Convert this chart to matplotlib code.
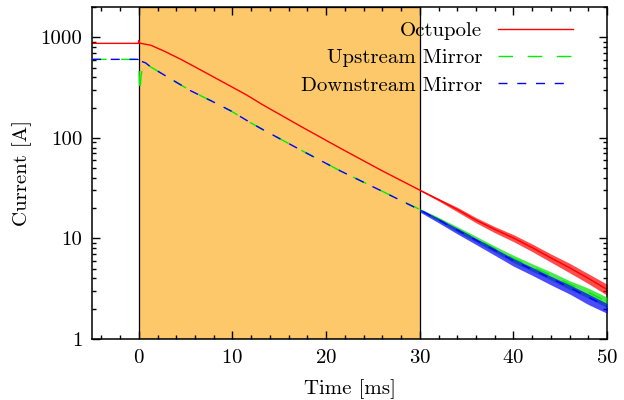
import matplotlib
matplotlib.use("Agg")
import matplotlib.pyplot as plt
from matplotlib.ticker import FixedLocator, FuncFormatter, MultipleLocator, LogLocator, NullFormatter

plt.rcParams["font.family"] = "serif"
plt.rcParams["font.serif"] = ["cmr10"]
plt.rcParams["mathtext.fontset"] = "cm"
plt.rcParams["axes.formatter.use_mathtext"] = True
plt.rcParams["font.size"] = 15

# time in ms, current in A
t_oct = [-5, -0.05, 0.0, 0.1, 0.2, 1.3, 2.7, 4.5, 6.25, 8, 9.8, 11.5, 13.2, 17.3, 21.5, 25.8,
         30, 32, 34, 36, 38, 40, 42, 44, 46, 48, 50]
i_oct = [870, 870, 930, 875, 871, 832, 729, 603, 493, 402, 326, 267, 214, 130, 79, 48,
         30.2, 24.3, 19.4, 15.2, 12.3, 10.1, 8.1, 6.4, 5.1, 4.0, 3.1]

t_up = [-5, -0.05, 0.0, 0.1, 0.25, 0.5, 0.7, 1.3, 3.4, 5.5, 7.7, 9.8, 11.9, 13.3, 17.6, 21.5, 25.8,
        30, 32, 34, 36, 38, 40, 42, 44, 46, 48, 50]
i_up = [603, 603, 600, 280, 420, 560, 558, 505, 386, 295, 234, 186, 142, 120, 73, 47, 30,
        19.4, 15.6, 12.4, 9.9, 7.9, 6.3, 5.2, 4.3, 3.5, 2.9, 2.35]

t_down = [-5, -0.05, 0.0, 0.1, 0.3, 0.7, 1.3, 3.4, 5.5, 7.7, 9.8, 11.9, 13.3, 17.6, 21.5, 25.8,
          30, 32, 34, 36, 38, 40, 42, 44, 46, 48, 50]
i_down = [603, 603, 650, 600, 575, 558, 505, 386, 295, 234, 186, 142, 120, 73, 47, 30,
          19.2, 15.3, 12.1, 9.6, 7.6, 6.0, 4.9, 4.0, 3.25, 2.6, 2.1]

# noise envelope on the tail
t_tail = [30, 32, 34, 36, 38, 40, 42, 44, 46, 48, 50]
oct_lo = [29.7, 23.6, 18.4, 14.3, 11.4, 9.3, 7.4, 5.8, 4.55, 3.55, 2.72]
oct_hi = [30.8, 25.0, 20.4, 16.1, 13.1, 10.9, 8.8, 7.0, 5.65, 4.45, 3.5]
up_lo = [18.8, 14.9, 11.6, 9.2, 7.3, 5.75, 4.7, 3.85, 3.1, 2.55, 2.05]
up_hi = [19.9, 16.2, 13.1, 10.5, 8.4, 6.8, 5.6, 4.65, 3.8, 3.2, 2.6]
down_lo = [18.3, 14.3, 11.1, 8.7, 6.8, 5.3, 4.3, 3.45, 2.8, 2.2, 1.8]
down_hi = [19.7, 15.8, 12.6, 10.0, 7.95, 6.3, 5.15, 4.2, 3.45, 2.8, 2.25]

shade_start, shade_end = 0, 30

fig = plt.figure(figsize=(6.24, 4.0), dpi=100)
ax = fig.add_axes([0.1474, 0.1525, 0.8256, 0.830])

ax.axvspan(shade_start, shade_end, facecolor="#fcc86a", edgecolor="black", linewidth=0.9, zorder=0)

ax.fill_between(t_tail, oct_lo, oct_hi, color="#ff0000", linewidth=0, alpha=0.7, zorder=2)
ax.fill_between(t_tail, up_lo, up_hi, color="#00e000", linewidth=0, alpha=0.7, zorder=3)
ax.fill_between(t_tail, down_lo, down_hi, color="#0000ff", linewidth=0, alpha=0.7, zorder=4)

ax.plot(t_oct, i_oct, color="#ff0000", lw=1.0, label="Octupole", zorder=2)
ax.plot(t_up, i_up, color="#00ee00", lw=1.0, dashes=(10.5, 10.5), label="Upstream Mirror", zorder=3)
ax.plot(t_down, i_down, color="#0000ff", lw=1.0, dashes=(6.5, 7.0), label="Downstream Mirror", zorder=4)

ax.set_yscale("log")
ax.set_xlim(-5, 50)
ax.set_ylim(1, 2000)

ax.xaxis.set_major_locator(MultipleLocator(10))
ax.xaxis.set_minor_locator(MultipleLocator(2))
ax.yaxis.set_major_locator(FixedLocator([1, 10, 100, 1000]))
ax.yaxis.set_major_formatter(FuncFormatter(lambda v, p: "%d" % v))
ax.yaxis.set_minor_locator(LogLocator(base=10, subs=range(2, 10)))
ax.yaxis.set_minor_formatter(NullFormatter())

ax.tick_params(which="both", direction="in", top=True, right=True, width=1.0)
ax.tick_params(which="major", length=6, pad=7)
ax.tick_params(which="minor", length=3)
for s in ax.spines.values():
    s.set_linewidth(1.1)

ax.set_xlabel("Time [ms]", labelpad=9)
ax.set_ylabel("Current [A]", labelpad=6)

ax.legend(loc="upper right", bbox_to_anchor=(0.934, 0.957), frameon=False, markerfirst=False,
          handlelength=3.6, handletextpad=0.77, borderpad=0, borderaxespad=0, labelspacing=0.42)

fig.savefig("out.png", dpi=100)
